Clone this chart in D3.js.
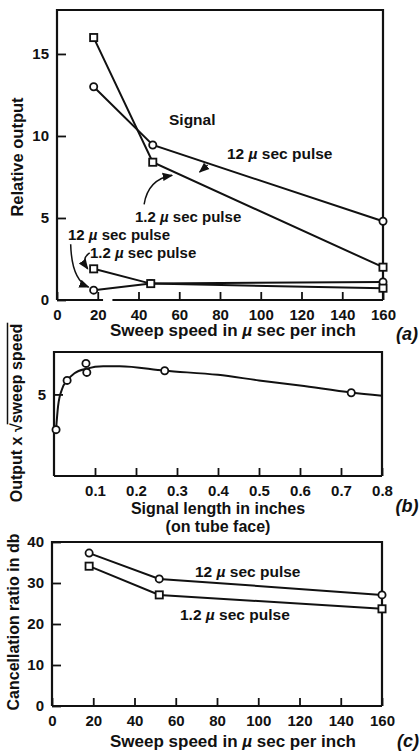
<!DOCTYPE html>
<html>
<head>
<meta charset="utf-8">
<script src="https://cdn.jsdelivr.net/npm/d3@7"></script>
<style>
  html, body { margin: 0; padding: 0; background: #fff; }
  svg { display: block; }
  text { font-family: "Liberation Sans", Arial, sans-serif; font-weight: bold; fill: #111; }
</style>
</head>
<body>
<svg id="fig" width="420" height="752"></svg>
<script>
// ---- (a) relative output vs sweep speed ----
const sweepTicks = [0, 20, 40, 60, 80, 100, 120, 140, 160];
const outputTicks = [0, 5, 10, 15];
const sigSpeed = [18, 47, 160];
const sig12 = [13.0, 9.45, 4.8];      // 12 µsec pulse, signal
const sig1_2 = [16.0, 8.4, 2.0];      // 1.2 µsec pulse, signal
const resSpeed = [18, 46, 160];
const res12 = [0.6, 1.0, 1.1];        // 12 µsec pulse, residue
const res1_2 = [1.9, 1.0, 0.72];      // 1.2 µsec pulse, residue

// ---- (b) output x sqrt(sweep speed) vs signal length ----
const lengthTicks = [0.1, 0.2, 0.3, 0.4, 0.5, 0.6, 0.7, 0.8];
const normTicks = [5];
const measLength = [0.005, 0.032, 0.078, 0.08, 0.27, 0.725];
const measOutput = [2.84, 5.86, 6.9, 6.35, 6.45, 5.1];
const fitLength = [0.005, 0.01, 0.02, 0.032, 0.05, 0.08, 0.12, 0.16, 0.27, 0.4, 0.5, 0.6, 0.725, 0.8];
const fitOutput = [2.84, 4.3, 5.35, 5.86, 6.3, 6.58, 6.72, 6.72, 6.45, 6.2, 5.86, 5.55, 5.12, 4.92];

// ---- (c) cancellation ratio vs sweep speed ----
const dbTicks = [0, 10, 20, 30, 40];
const cancSpeed = [18, 52, 160];
const canc12 = [37.3, 31.0, 27.1];
const canc1_2 = [34.1, 27.1, 23.7];

const svg = d3.select("#fig");
const ink = "#111";

svg.append("defs").append("marker")
  .attr("id", "head").attr("viewBox", "0 0 10 10")
  .attr("refX", 9).attr("refY", 5)
  .attr("markerWidth", 7).attr("markerHeight", 7)
  .attr("orient", "auto-start-reverse")
  .append("path").attr("d", "M0,1 L10,5 L0,9 Z").attr("fill", ink);

function zip(xs, ys) { return xs.map((x, i) => [x, ys[i]]); }

function frame(g, x0, x1, y0, y1) {
  g.append("path")
    .attr("d", `M${x0},${y0} V${y1} H${x1} V${y0}`)
    .attr("fill", "none").attr("stroke", ink).attr("stroke-width", 2.2);
}

function drawAxes(x, y, xt, yt, xfmt, yfmt, bottomGap) {
  const g = svg.append("g");
  const [xa, xb] = x.range();
  const [ya, yb] = y.range();
  // bottom edge (optionally broken)
  if (bottomGap) {
    g.append("line").attr("x1", xa).attr("x2", x(bottomGap[0])).attr("y1", ya).attr("y2", ya)
      .attr("stroke", ink).attr("stroke-width", 2.2);
    g.append("line").attr("x1", x(bottomGap[1])).attr("x2", xb).attr("y1", ya).attr("y2", ya)
      .attr("stroke", ink).attr("stroke-width", 2.2);
  } else {
    g.append("line").attr("x1", xa).attr("x2", xb).attr("y1", ya).attr("y2", ya)
      .attr("stroke", ink).attr("stroke-width", 2.2);
  }
  frame(g, xa, xb, ya, yb);

  const ax = g.append("g").attr("transform", `translate(0,${ya})`)
    .call(d3.axisBottom(x).tickValues(xt).tickFormat(xfmt).tickSizeInner(-8).tickSizeOuter(0).tickPadding(9));
  ax.select(".domain").remove();
  ax.selectAll(".tick line").attr("stroke", ink).attr("stroke-width", 1.8);
  ax.selectAll("text").attr("font-size", 15).attr("font-family", "Liberation Sans, Arial, sans-serif");

  const ay = g.append("g").attr("transform", `translate(${xa},0)`)
    .call(d3.axisLeft(y).tickValues(yt).tickFormat(yfmt).tickSizeInner(-9).tickSizeOuter(0).tickPadding(8));
  ay.select(".domain").remove();
  ay.selectAll(".tick line").attr("stroke", ink).attr("stroke-width", 1.8);
  ay.selectAll("text").attr("font-size", 15).attr("font-family", "Liberation Sans, Arial, sans-serif");
  return g;
}

function series(x, y, pts, curve) {
  svg.append("path").datum(pts)
    .attr("d", d3.line().x(d => x(d[0])).y(d => y(d[1])).curve(curve || d3.curveLinear))
    .attr("fill", "none").attr("stroke", ink).attr("stroke-width", 2);
}

function markers(x, y, pts, shape) {
  const g = svg.append("g");
  if (shape === "circle") {
    g.selectAll("circle").data(pts).join("circle")
      .attr("cx", d => x(d[0])).attr("cy", d => y(d[1])).attr("r", 3.6)
      .attr("fill", "#fff").attr("stroke", ink).attr("stroke-width", 1.8);
  } else {
    g.selectAll("rect").data(pts).join("rect")
      .attr("x", d => x(d[0]) - 3.6).attr("y", d => y(d[1]) - 3.6)
      .attr("width", 7.2).attr("height", 7.2)
      .attr("fill", "#fff").attr("stroke", ink).attr("stroke-width", 1.8);
  }
}

function label(xp, yp, parts, size, anchor) {
  const t = svg.append("text").attr("x", xp).attr("y", yp)
    .attr("font-size", size).attr("text-anchor", anchor || "start");
  parts.forEach(p => {
    const s = t.append("tspan").text(p.t);
    if (p.i) s.attr("font-style", "italic");
  });
  return t;
}

function pulse(n) { return [{ t: n + " " }, { t: "µ", i: true }, { t: " sec pulse" }]; }
const axisTitle = [{ t: "Sweep speed in " }, { t: "µ", i: true }, { t: " sec per inch" }];

function vlabel(cx, cy, text, size) {
  svg.append("text").attr("transform", `translate(${cx},${cy}) rotate(-90)`)
    .attr("text-anchor", "middle").attr("dy", "0.35em")
    .attr("font-size", size).text(text);
}

function arrow(pathStr) {
  svg.append("path").attr("d", pathStr).attr("fill", "none")
    .attr("stroke", ink).attr("stroke-width", 1.5).attr("marker-end", "url(#head)");
}

function panelTag(xp, yp, ch) {
  svg.append("text").attr("x", xp).attr("y", yp).attr("text-anchor", "middle")
    .attr("font-family", "Liberation Serif, serif").attr("font-style", "italic")
    .attr("font-weight", "normal").attr("font-size", 18).text(`(${ch})`);
}

// ================= panel (a) =================
const xa = d3.scaleLinear().domain([0, 160]).range([57, 383]);
const ya = d3.scaleLinear().domain([0, 17.68]).range([300, 10]);
drawAxes(xa, ya, sweepTicks, outputTicks, d3.format("d"), d3.format("d"), [22.6, 27.2]);

series(xa, ya, zip(sigSpeed, sig1_2));
series(xa, ya, zip(sigSpeed, sig12));
series(xa, ya, zip(resSpeed, res12));
series(xa, ya, zip(resSpeed, res1_2));
markers(xa, ya, zip(sigSpeed, sig1_2), "square");
markers(xa, ya, zip(sigSpeed, sig12), "circle");
markers(xa, ya, zip(resSpeed, res12), "circle");
markers(xa, ya, zip(resSpeed, res1_2), "square");

label(169, 125, [{ t: "Signal" }], 15.5);
label(227, 159, pulse("12"), 15.5);
label(135, 222, pulse("1.2"), 15);
label(68, 240, pulse("12"), 15);
label(90, 258, pulse("1.2"), 15);

// pointers from the labels to their curves
{
  const p12 = [xa(70), ya(7.8)];
  arrow(`M${p12[0] + 8},${p12[1] - 7} L${p12[0]},${p12[1]}`);
  const tip = [xa(56.5), ya(7.6)];
  arrow(`M${tip[0] - 28},${tip[1] + 29} Q${tip[0] - 24},${tip[1] + 4} ${tip[0]},${tip[1]}`);
  const c0 = [xa(resSpeed[0]), ya(res12[0])];
  arrow(`M${c0[0] - 23},${c0[1] - 46} Q${c0[0] - 22},${c0[1] - 10} ${c0[0] - 5},${c0[1] - 3}`);
  const s0 = [xa(resSpeed[0]), ya(res1_2[0])];
  arrow(`M${s0[0] - 4},${s0[1] - 16} Q${s0[0] - 13},${s0[1] - 10} ${s0[0] - 6},${s0[1]}`);
}

vlabel(17, 157, "Relative output", 16.5);
label(233, 336, axisTitle, 17, "middle");
panelTag(407, 340, "a");

// ================= panel (b) =================
const xb = d3.scaleLinear().domain([0, 0.8]).range([54, 382]);
const yb = d3.scaleLinear().domain([0, 7.6]).range([476, 352]);
drawAxes(xb, yb, lengthTicks, normTicks, d3.format(".1f"), d3.format("d"));
series(xb, yb, zip(fitLength, fitOutput), d3.curveMonotoneX);
markers(xb, yb, zip(measLength, measOutput), "circle");

// rotated title with a radical sign over "sweep speed"
{
  const g = svg.append("g").attr("transform", "translate(16,413) rotate(-90)");
  const t = g.append("text").attr("text-anchor", "middle").attr("dy", "0.35em").attr("font-size", 16);
  t.append("tspan").text("Output x \u221A");
  const rad = t.append("tspan").text("sweep speed");
  const full = t.node().getComputedTextLength();
  const radLen = rad.node().getComputedTextLength();
  const xEnd = full / 2;
  g.append("line").attr("x1", xEnd - radLen - 1).attr("x2", xEnd + 1)
    .attr("y1", -8.5).attr("y2", -8.5).attr("stroke", ink).attr("stroke-width", 1.5);
}
label(218, 514, [{ t: "Signal length in inches" }], 16, "middle");
label(218, 532, [{ t: "(on tube face)" }], 16, "middle");
panelTag(407, 512, "b");

// ================= panel (c) =================
const xc = d3.scaleLinear().domain([0, 160]).range([52, 382]);
const yc = d3.scaleLinear().domain([0, 40]).range([706, 542]);
drawAxes(xc, yc, sweepTicks, dbTicks, d3.format("d"), d3.format("d"));
series(xc, yc, zip(cancSpeed, canc12));
series(xc, yc, zip(cancSpeed, canc1_2));
markers(xc, yc, zip(cancSpeed, canc12), "circle");
markers(xc, yc, zip(cancSpeed, canc1_2), "square");
label(195, 577, pulse("12"), 15.5);
label(180, 620, pulse("1.2"), 15.5);

vlabel(13, 622, "Cancellation ratio in db", 16);
label(233, 747, axisTitle, 17, "middle");
panelTag(408, 747, "c");
</script>
</body>
</html>
